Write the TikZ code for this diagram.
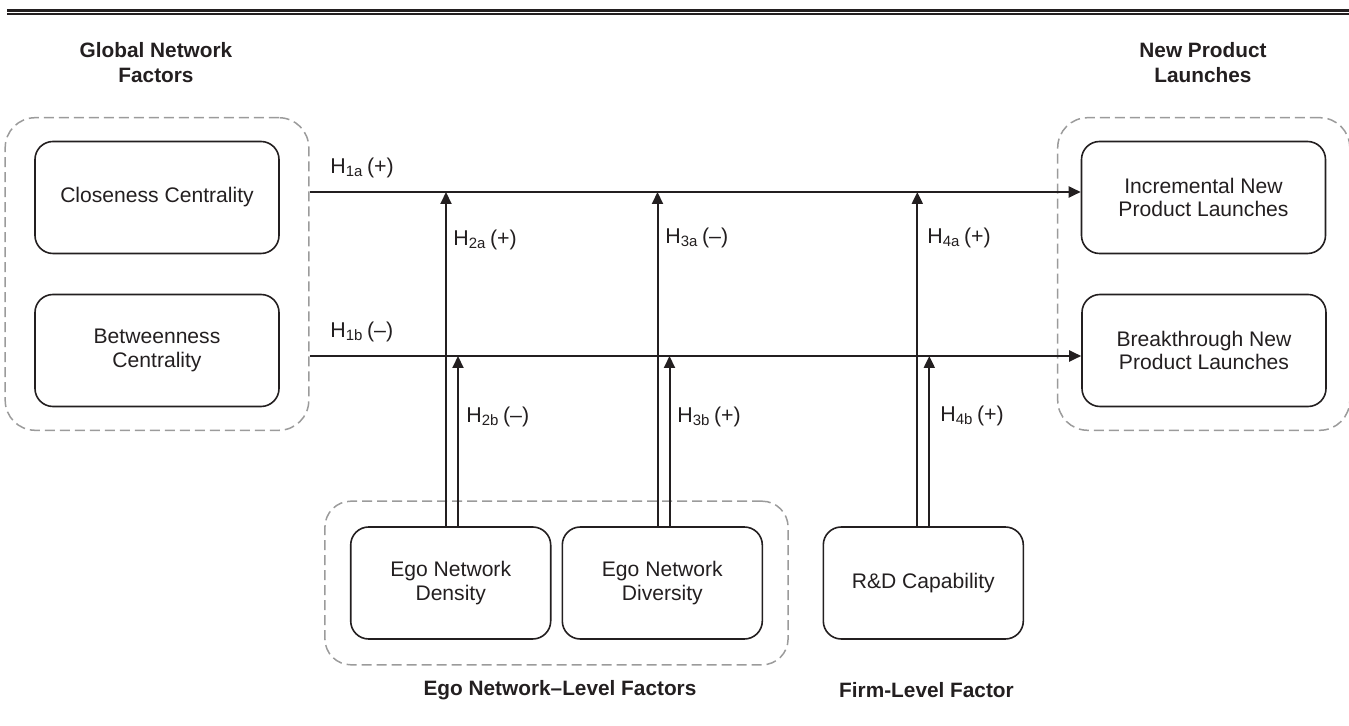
\documentclass[tikz,border=0pt]{standalone}
\usepackage{fontspec}
\setmainfont{Liberation Sans}
\usetikzlibrary{arrows.meta,positioning,fit}
\definecolor{inkdark}{HTML}{231F20}
\definecolor{dashgray}{HTML}{9B9B9B}

\begin{document}
\begin{tikzpicture}[
    x=0.5pt, y=-0.5pt,
    factorbox/.style={rectangle, draw=inkdark, line width=0.8pt, rounded corners=9pt,
                 minimum width=122pt, minimum height=56pt, inner sep=0pt,
                 align=center, text=inkdark, font=\fontsize{10.55}{11.7}\selectfont},
    groupbox/.style={rectangle, draw=dashgray, line width=0.75pt,
                 dash pattern=on 5pt off 2.5pt, rounded corners=15pt},
    grouptitle/.style={font=\bfseries\fontsize{10.4}{12.5}\selectfont, align=center, text=inkdark},
    hyp/.style={anchor=west, inner sep=0pt, font=\fontsize{10.7}{12}\selectfont, text=inkdark},
    arr/.style={-{Triangle[length=6pt, width=5.5pt]}, line width=1pt, draw=inkdark},
]
    \useasboundingbox (0,0) rectangle (1349,726);

    % double rule on top
    \draw[line width=1.35pt, inkdark] (7,10.4) -- (1349,10.4);
    \draw[line width=1pt, inkdark] (7,14.1) -- (1349,14.1);

    % factor boxes
    \node[factorbox] (close) at (157,197.5) {Closeness Centrality};
    \node[factorbox] (betw) at (157,350.5) {Betweenness\\Centrality};
    \node[factorbox] (incr) at (1203.5,197.5) {Incremental New\\Product Launches};
    \node[factorbox] (brk) at (1204,350.5) {Breakthrough New\\Product Launches};
    \node[factorbox, minimum width=100pt] (dens) at (450.7,583) {Ego Network\\Density};
    \node[factorbox, minimum width=100pt] (divs) at (662.3,583) {Ego Network\\Diversity};
    \node[factorbox, minimum width=100pt] (rnd) at (923.3,583) {R\&D Capability};

    % dashed groups
    \node[groupbox, fit=(close)(betw), inner xsep=14.5pt, inner ysep=11.5pt] (globgrp) {};
    \node[groupbox, fit=(incr)(brk), inner xsep=11.5pt, inner ysep=11.5pt] (launchgrp) {};
    \node[groupbox, rounded corners=13pt, fit=(dens)(divs), inner sep=12.5pt] (egogrp) {};

    % group titles
    \node[grouptitle] (globttl) at (156,62.5) {Global Network\\Factors};
    \node[grouptitle] (launchttl) at (1203,62.5) {New Product\\Launches};
    \node[grouptitle] (egottl) at (560,690.5) {Ego Network–Level Factors};
    \node[grouptitle] (firmttl) at (926.5,690) {Firm-Level Factor};

    % main paths
    \coordinate (ha) at (globgrp.east |- 0,192);
    \coordinate (hb) at (globgrp.east |- 0,356);
    \draw[arr] (ha) -- (ha -| incr.west);
    \draw[arr] (hb) -- (hb -| brk.west);

    % moderating paths
    \coordinate (densA) at ([xshift=-2.35pt]dens.north);
    \coordinate (densB) at ([xshift=3.65pt]dens.north);
    \coordinate (divsA) at ([xshift=-2.4pt]divs.north);
    \coordinate (divsB) at ([xshift=3.6pt]divs.north);
    \coordinate (rndA) at ([xshift=-3pt]rnd.north);
    \coordinate (rndB) at ([xshift=3pt]rnd.north);
    \draw[arr] (densA) -- (densA |- ha);
    \draw[arr] (densB) -- (densB |- hb);
    \draw[arr] (divsA) -- (divsA |- ha);
    \draw[arr] (divsB) -- (divsB |- hb);
    \draw[arr] (rndA) -- (rndA |- ha);
    \draw[arr] (rndB) -- (rndB |- hb);

    % hypothesis labels
    \node[hyp] (h1a) at (330,168) {H\textsubscript{1a}\,(+)};
    \node[hyp] (h1b) at (330,332) {H\textsubscript{1b}\,(–)};
    \node[hyp] (h2a) at (453,240) {H\textsubscript{2a}\,(+)};
    \node[hyp] (h2b) at (466,416.5) {H\textsubscript{2b}\,(–)};
    \node[hyp] (h3a) at (665,238) {H\textsubscript{3a}\,(–)};
    \node[hyp] (h3b) at (677,416.5) {H\textsubscript{3b}\,(+)};
    \node[hyp] (h4a) at (927,238) {H\textsubscript{4a}\,(+)};
    \node[hyp] (h4b) at (940,416) {H\textsubscript{4b}\,(+)};
\end{tikzpicture}
\end{document}
